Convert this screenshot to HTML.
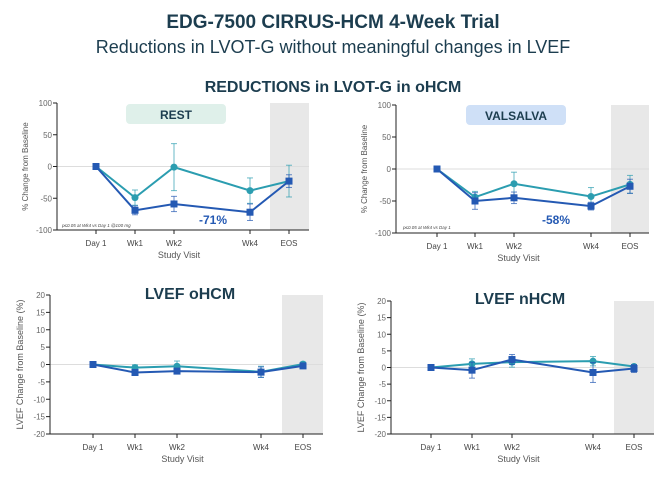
<!DOCTYPE html>
<html><head><meta charset="utf-8"><style>
body{margin:0;background:#fff;width:666px;height:472px;overflow:hidden;font-family:"Liberation Sans",sans-serif}
svg text{font-family:"Liberation Sans",sans-serif}
</style></head><body>
<svg id="s" width="666" height="472">
<text x="333" y="28" text-anchor="middle" font-size="19" font-weight="bold" fill="#1c3d4f">EDG-7500 CIRRUS-HCM 4-Week Trial</text>
<text x="333" y="53" text-anchor="middle" font-size="18" fill="#1c3d4f">Reductions in LVOT-G without meaningful changes in LVEF</text>
<text x="333" y="92" text-anchor="middle" font-size="16" font-weight="bold" fill="#1c3d4f">REDUCTIONS in LVOT-G in oHCM</text>
</svg>
<script>
const categories=["Day 1","Wk1","Wk2","Wk4","EOS"];
const restDark=[0,-69,-59,-72,-23];
const restDarkErr=[0,7,12,13,10];
const restTeal=[0,-49,-1,-38,-23];
const restTealErr=[0,12,37,20,25];
const valDark=[0,-50,-45,-58,-27];
const valDarkErr=[0,13,9,6,11];
const valTeal=[0,-44,-23,-43,-24];
const valTealErr=[0,9,18,14,14];
const oDark=[0,-2.3,-1.9,-2.2,-0.4];
const oDarkErr=[0,0.6,0.6,1.5,0.6];
const oTeal=[0,-0.9,-0.5,-2.1,0.1];
const oTealErr=[0,0.8,1.5,1.6,0.6];
const nDark=[0,-0.8,2.4,-1.5,-0.3];
const nDarkErr=[0,2.4,1.5,3,1.2];
const nTeal=[0,1.1,1.6,1.9,0.3];
const nTealErr=[0,1.5,1.5,1.4,0.6];
const lvotTicks=[100,50,0,-50,-100];
const lvefTicks=[20,15,10,5,0,-5,-10,-15,-20];

const NS="http://www.w3.org/2000/svg";
const svg=document.getElementById('s');
function el(t,a,p){const e=document.createElementNS(NS,t);for(const k in a)e.setAttribute(k,a[k]);(p||svg).appendChild(e);return e;}
const DARK="#2459b3",TEAL="#2b9db0";
function panel(o){
  const g=el('g',{});
  
  
  const ys=v=>o.y0+(o.max-v)/(o.max-o.min)*(o.y1-o.y0);
  const xs=i=>o.xs[i];
  el('rect',{x:o.gx,y:o.y0,width:o.x1-o.gx,height:o.y1-o.y0,fill:"#e8e8e8"},g);
  el('line',{x1:o.x0,x2:o.x1,y1:ys(0),y2:ys(0),stroke:"#ddd","stroke-width":1},g);
  el('line',{x1:o.x0,x2:o.x0,y1:o.y0,y2:o.y1,stroke:"#222","stroke-width":1},g);
  el('line',{x1:o.x0,x2:o.x1,y1:o.y1,y2:o.y1,stroke:"#222","stroke-width":1},g);
  o.ticks.forEach(t=>{
    el('line',{x1:o.x0-4,x2:o.x0,y1:ys(t),y2:ys(t),stroke:"#222"},g);
    const tx=el('text',{x:o.x0-5,y:ys(t)+3,"text-anchor":"end","font-size":8,fill:"#666"},g);
    tx.textContent=t;
    
    
  });
  categories.forEach((c,i)=>{
    el('line',{x1:xs(i),x2:xs(i),y1:o.y1,y2:o.y1+4,stroke:"#222"},g);
    const tx=el('text',{x:xs(i),y:o.y1+16,"text-anchor":"middle","font-size":8,fill:"#444"},g);
    tx.textContent=c;
    
    
  });
  const xt=el('text',{x:(o.x0+o.x1)/2-4,y:o.y1+28,"text-anchor":"middle","font-size":9,fill:"#555"},g);
  xt.textContent="Study Visit";
  
  
  const yc=(o.y0+o.y1)/2;
  const yt=el('text',{x:o.ytx,y:yc,"text-anchor":"middle","font-size":o.ytf,fill:"#555",transform:`rotate(-90 ${o.ytx} ${yc})`},g);
  yt.textContent=o.ytitle;
  
  
  [[o.teal,o.tealErr,TEAL,'circle'],[o.dark,o.darkErr,DARK,'square']].forEach(([v,e,col,sh])=>{
    const pts=v.map((d,i)=>xs(i)+","+ys(d)).join(" ");
    const pl=el('polyline',{points:pts,fill:"none",stroke:col,"stroke-width":2},g);
    
    
    v.forEach((d,i)=>{
      if(e[i]>0){
        el('line',{x1:xs(i),x2:xs(i),y1:ys(d-e[i]),y2:ys(d+e[i]),stroke:col,"stroke-width":1,opacity:0.7},g);
        el('line',{x1:xs(i)-3,x2:xs(i)+3,y1:ys(d-e[i]),y2:ys(d-e[i]),stroke:col,opacity:0.7},g);
        el('line',{x1:xs(i)-3,x2:xs(i)+3,y1:ys(d+e[i]),y2:ys(d+e[i]),stroke:col,opacity:0.7},g);
      }
      let m;
      if(sh==='circle') m=el('circle',{cx:xs(i),cy:ys(d),r:3.5,fill:col},g);
      else m=el('rect',{x:xs(i)-3.5,y:ys(d)-3.5,width:7,height:7,fill:col},g);
      
      
    });
  });
  return {g,ys};
}
const p1=panel({name:'rest-chart',x0:57,x1:309,gx:270,y0:103,y1:230,min:-100,max:100,xs:[96,135,174,250,289],ticks:lvotTicks,ytitle:"% Change from Baseline",ytx:28,ytf:8,dark:restDark,darkErr:restDarkErr,teal:restTeal,tealErr:restTealErr});
const p2=panel({name:'valsalva-chart',x0:396,x1:649,gx:611,y0:105,y1:233,min:-100,max:100,xs:[437,475,514,591,630],ticks:lvotTicks,ytitle:"% Change from Baseline",ytx:367,ytf:8,dark:valDark,darkErr:valDarkErr,teal:valTeal,tealErr:valTealErr});
const p3=panel({name:'lvef-ohcm-chart',x0:50,x1:323,gx:282,y0:295,y1:434,min:-20,max:20,xs:[93,135,177,261,303],ticks:lvefTicks,ytitle:"LVEF  Change from  Baseline (%)",ytx:23,ytf:9,dark:oDark,darkErr:oDarkErr,teal:oTeal,tealErr:oTealErr});
const p4=panel({name:'lvef-nhcm-chart',x0:391,x1:654,gx:614,y0:301,y1:434,min:-20,max:20,xs:[431,472,512,593,634],ticks:lvefTicks,ytitle:"LVEF  Change from  Baseline (%)",ytx:364,ytf:9,dark:nDark,darkErr:nDarkErr,teal:nTeal,tealErr:nTealErr});
</script>
<svg width="666" height="472" style="position:absolute;left:0;top:0">
<rect x="126" y="104" width="100" height="20" rx="4" fill="#dff0ea"/>
<text x="176" y="119" text-anchor="middle" font-size="12" font-weight="bold" fill="#1c3d4f">REST</text>
<rect x="466" y="105" width="100" height="20" rx="4" fill="#cfe0f7"/>
<text x="516" y="120" text-anchor="middle" font-size="12" font-weight="bold" fill="#1c3d4f">VALSALVA</text>
<text x="213" y="224" text-anchor="middle" font-size="12" font-weight="bold" fill="#2459b3">-71%</text>
<text x="556" y="224" text-anchor="middle" font-size="12" font-weight="bold" fill="#2459b3">-58%</text>
<text x="62" y="227" font-size="4.5" font-style="italic" fill="#444">p≤0.05 at Wk4 vs Day 1 @100 mg</text>
<text x="403" y="229" font-size="4.5" font-style="italic" fill="#444">p≤0.05 at Wk4 vs Day 1</text>
<text x="190" y="299" text-anchor="middle" font-size="16" font-weight="bold" fill="#1c3d4f">LVEF oHCM</text>
<text x="520" y="304" text-anchor="middle" font-size="16" font-weight="bold" fill="#1c3d4f">LVEF nHCM</text>
</svg>
</body></html>
